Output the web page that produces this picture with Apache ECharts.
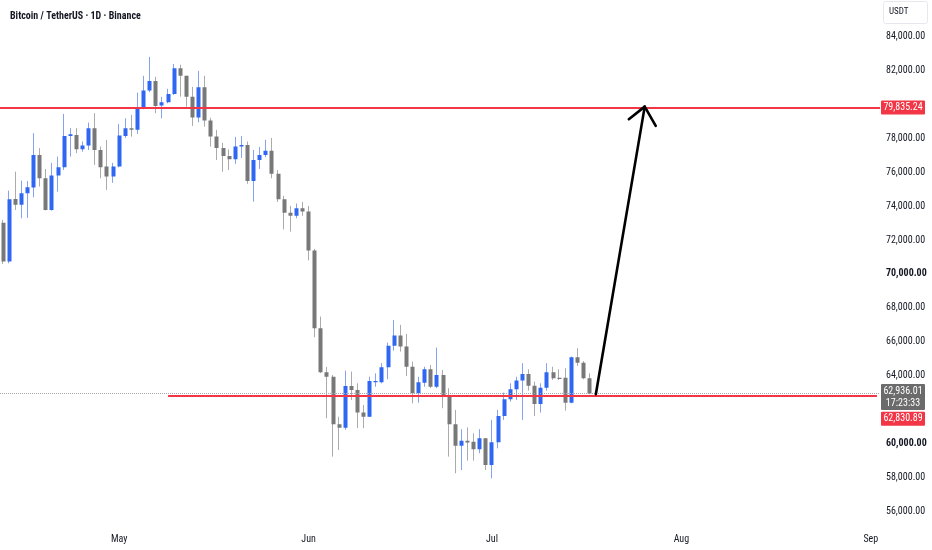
<!DOCTYPE html>
<html>
<head>
<meta charset="utf-8">
<script src="https://cdn.jsdelivr.net/npm/echarts@6/dist/echarts.min.js"></script>
<style>
html,body{margin:0;padding:0;background:#ffffff;}
#chart{width:932px;height:550px;}
</style>
</head>
<body>
<div id="chart"></div>
<script>
// ---------------- data ----------------
const chartTitle = 'Bitcoin / TetherUS · 1D · Binance';
const quoteCurrency = 'USDT';
const firstDate = '2024-04-12';
const dayCount = 144; // Apr 12 .. Sep 2 (empty future days included)
const monthNames = ['Jan','Feb','Mar','Apr','May','Jun','Jul','Aug','Sep','Oct','Nov','Dec'];

const opens = [73030,70730,74430,74090,74770,75100,77030,75650,73780,75810,
  76300,78150,78210,77370,77580,78610,77320,76340,75750,76340,
  78150,78610,78510,79850,80830,81400,79940,80140,80630,82150,
  81700,80460,79240,81030,79060,78110,77440,76970,76780,77520,
  77620,75490,76730,77030,77280,75910,74410,73620,73430,73880,
  73680,71390,66790,64190,63930,61120,60920,63380,63150,61810,
  61570,63600,63600,64490,65760,66360,65710,64520,62950,63580,
  64370,63340,64030,62750,61120,59860,60150,60090,59650,60300,
  58720,60060,61610,62600,63190,63700,64090,63400,62320,63280,
  64190,63870,63870,62400,65080,64760,63840];
const closes = [70730,74410,74090,74770,75120,77030,75650,73780,75810,76300,
  78150,78250,77370,77580,78610,77320,76300,75750,76340,78170,
  78610,78510,79850,80830,81400,79920,80140,80630,82150,81700,
  80460,79240,81030,79060,78110,77440,76970,76780,77520,77620,
  75490,76730,77030,77280,75910,74410,73620,73430,73880,73680,
  71390,66790,64190,63930,61120,60920,63380,63150,61810,61570,
  63680,63680,64490,65760,66360,65710,64520,62950,63600,64370,
  63340,64030,62750,61120,59860,60150,60040,59650,60300,58720,
  60060,61610,62600,63190,63700,64090,63400,62320,63280,64190,
  63840,63800,62400,65080,64760,63840,62936.01];
const lows = [70590,70630,73780,73290,73310,74530,75160,73750,73740,74860,
  76140,76930,77130,77220,77320,76440,75650,74960,75380,76300,
  78030,78110,78270,79730,80730,79490,79190,80080,80570,80470,
  79880,78740,78950,78700,77520,76730,76040,76140,76500,76850,
  75320,74270,76200,76890,75650,74250,72630,72500,73290,73430,
  70800,66260,64150,61480,59210,59600,60790,62560,60890,60890,
  61550,63340,63540,63780,65470,65410,63970,62360,62400,63340,
  63250,63250,62070,59210,58230,58420,58970,58970,59410,58420,
  57930,59700,61380,62460,62560,61380,63110,61610,61810,63110,
  63740,63740,61930,62360,64570,63780,62900];
const highs = [73190,74920,76040,75510,75490,78310,77430,76200,76560,76930,
  79450,78610,78610,77820,78940,79490,77520,77920,76560,78860,
  79190,79390,80710,81700,82820,81640,80460,80930,82400,82350,
  81700,81050,81990,81700,79220,78510,77740,77350,78090,78150,
  77820,77320,77500,77920,78030,76140,74610,74020,74160,74250,
  74020,71480,67480,64510,64030,61570,64290,64230,63540,62260,
  63930,64130,64730,65940,67280,66990,66460,64820,63930,64520,
  64620,65650,64330,63250,61970,60830,60940,60590,60830,60310,
  61380,61970,62990,63540,63930,64730,64370,63640,63540,64730,
  64520,64370,64430,65120,65610,64860,64130];

const priceMin = 56000;
const priceMax = 86000;
const priceStep = 2000;
const priceTickLabels = [56000,58000,60000,64000,66000,68000,70000,72000,74000,76000,78000,82000,84000];
const boldTicks = [60000,70000];

const resistanceLevel = 79835.24;
const supportLevel = 62830.89;
const supportStartDate = '2024-05-09';
const lastPrice = 62936.01;
const lastTime = '17:23:33';

// arrow, in [day number from firstDate, price]
const arrowShaft = [[97, 62900],[105, 79880]];
const arrowHead  = [[102.4, 79140],[105, 79880],[106.8, 78740]];

// ---------------- derived ----------------
const categories = [];
(function(){
  const d0 = new Date(firstDate + 'T00:00:00Z');
  for (let i = 0; i < dayCount; i++) {
    const d = new Date(d0.getTime() + i * 86400000);
    categories.push(d.toISOString().slice(0,10));
  }
})();
const ohlc = opens.map((o,i) => [o, closes[i], lows[i], highs[i]]);
const fmt = v => v.toLocaleString('en-US',{minimumFractionDigits:2, maximumFractionDigits:2});

const tagValues = [resistanceLevel, lastPrice, supportLevel];
const tagTexts = [fmt(resistanceLevel), fmt(lastPrice) + '\n' + lastTime, fmt(supportLevel)];

// ---------------- styles ----------------
const FONT = "'Liberation Sans Narrow','Roboto Condensed',Roboto,'Liberation Sans',sans-serif";
const TEXT = '#131722';
const RED = '#f23645';
const UP = '#2f67f2';
const DOWN = '#787878';
const UP_WICK = '#86a2f2';
const DOWN_WICK = '#ababab';
const tagColors = [RED, '#6b6b6b', RED];
const tagLayout = [{dy:-7, h:14, w:44}, {dy:-9.5, h:26, w:44}, {dy:16.5, h:14, w:44}];

const chart = echarts.init(document.getElementById('chart'), null, {renderer:'canvas'});

chart.setOption({
  animation: false,
  backgroundColor: '#ffffff',
  title: {
    text: chartTitle, left: 5, top: 6,
    textStyle: {fontSize: 10, fontWeight: 'bold', color: TEXT, fontFamily: FONT}
  },
  graphic: [
    {type:'rect', left: 883, top: 1, shape:{width:44, height:22, r:2},
     style:{fill:'#ffffff', stroke:'#e6e8ee', lineWidth:1}},
    {type:'text', left: 889, top: 7,
     style:{text: quoteCurrency, fill: TEXT, font: '9px ' + FONT}}
  ],
  grid: {left: -2, right: 52, top: 3, bottom: 39, containLabel: false},
  xAxis: [{
    type: 'category',
    data: categories,
    boundaryGap: true,
    axisLine: {show:false}, axisTick: {show:false}, splitLine: {show:false},
    axisLabel: {
      interval: (idx, val) => val.slice(8) === '01',
      formatter: val => monthNames[parseInt(val.slice(5,7),10) - 1],
      margin: 23, fontSize: 10, color: TEXT, fontFamily: FONT
    }
  },{
    type: 'value', show: false, min: -0.5, max: dayCount - 0.5
  }],
  yAxis: {
    type: 'value', position: 'right', scale: false,
    min: priceMin, max: priceMax, interval: priceStep,
    axisLine: {show:false}, axisTick: {show:false}, splitLine: {show:false},
    axisLabel: {
      margin: 6, fontSize: 10, color: TEXT, fontFamily: FONT,
      formatter: v => {
        if (priceTickLabels.indexOf(v) < 0) return '';
        return boldTicks.indexOf(v) >= 0 ? '{b|' + fmt(v) + '}' : fmt(v);
      },
      rich: {b: {fontWeight:'bold', fontSize:10, color: TEXT, fontFamily: FONT}}
    }
  },
  series: [
    {
      name: 'wicks', type: 'candlestick', data: ohlc, barWidth: 1,
      itemStyle: {color: UP_WICK, color0: DOWN_WICK, borderColor: UP_WICK, borderColor0: DOWN_WICK, borderWidth: 1},
      silent: true
    },
    {
      name: 'bodies', type: 'candlestick', data: ohlc, barWidth: 4.4,
      itemStyle: {color: UP, color0: DOWN, borderColor: 'rgba(0,0,0,0)', borderColor0: 'rgba(0,0,0,0)', borderColorDoji: 'rgba(0,0,0,0)', borderWidth: 0},
      silent: true,
      markLine: {
        silent: true, symbol: ['none','none'], animation: false,
        label: {show: false},
        data: [
          [{yAxis: lastPrice, lineStyle:{color:'#a7a9b0', width:1, type:'dotted'}},
           {yAxis: lastPrice}],
          [{coord: [supportStartDate, supportLevel], lineStyle:{color: RED, width: 2, type:'solid'}},
           {coord: [categories[categories.length-1], supportLevel]}],
          [{yAxis: resistanceLevel, lineStyle:{color: RED, width: 2, type:'solid'}},
           {yAxis: resistanceLevel}]
        ].map(pair => {
          // ECharts: full-width yAxis lines need single item form
          if (pair[0].yAxis !== undefined) return Object.assign({}, pair[0], {xAxis: undefined});
          return pair;
        })
      }
    },
    {
      name: 'arrow', type: 'custom', xAxisIndex: 1, yAxisIndex: 0,
      data: [arrowShaft[1]], silent: true, z: 10,
      renderItem: (params, api) => {
        const shaft = arrowShaft.map(p => api.coord(p));
        const head = arrowHead.map(p => api.coord(p));
        const st = {stroke:'#000000', lineWidth: 2.6, fill: null, lineCap:'round', lineJoin:'round'};
        return {type:'group', children:[
          {type:'polyline', shape:{points: shaft}, style: st},
          {type:'polyline', shape:{points: head}, style: st}
        ]};
      }
    },
    {
      name: 'tags', type: 'custom', silent: true, z: 12, clip: false,
      data: tagValues.map(v => [categories[0], v]),
      renderItem: (params, api) => {
        const i = params.dataIndex;
        const cs = params.coordSys;
        const y = api.coord([api.value(0), api.value(1)])[1];
        const lay = tagLayout[i];
        const x0 = cs.x + cs.width + 1;
        return {type:'group', children:[
          {type:'rect', shape:{x: x0, y: y + lay.dy, width: lay.w, height: lay.h, r: 1},
           style:{fill: tagColors[i]}},
          {type:'text', style:{x: x0 + lay.w/2, y: y + lay.dy + lay.h/2, text: tagTexts[i],
             fill:'#ffffff', font: '10px ' + FONT, align:'center', verticalAlign:'middle', lineHeight: 12}}
        ]};
      }
    }
  ]
});
</script>
</body>
</html>
